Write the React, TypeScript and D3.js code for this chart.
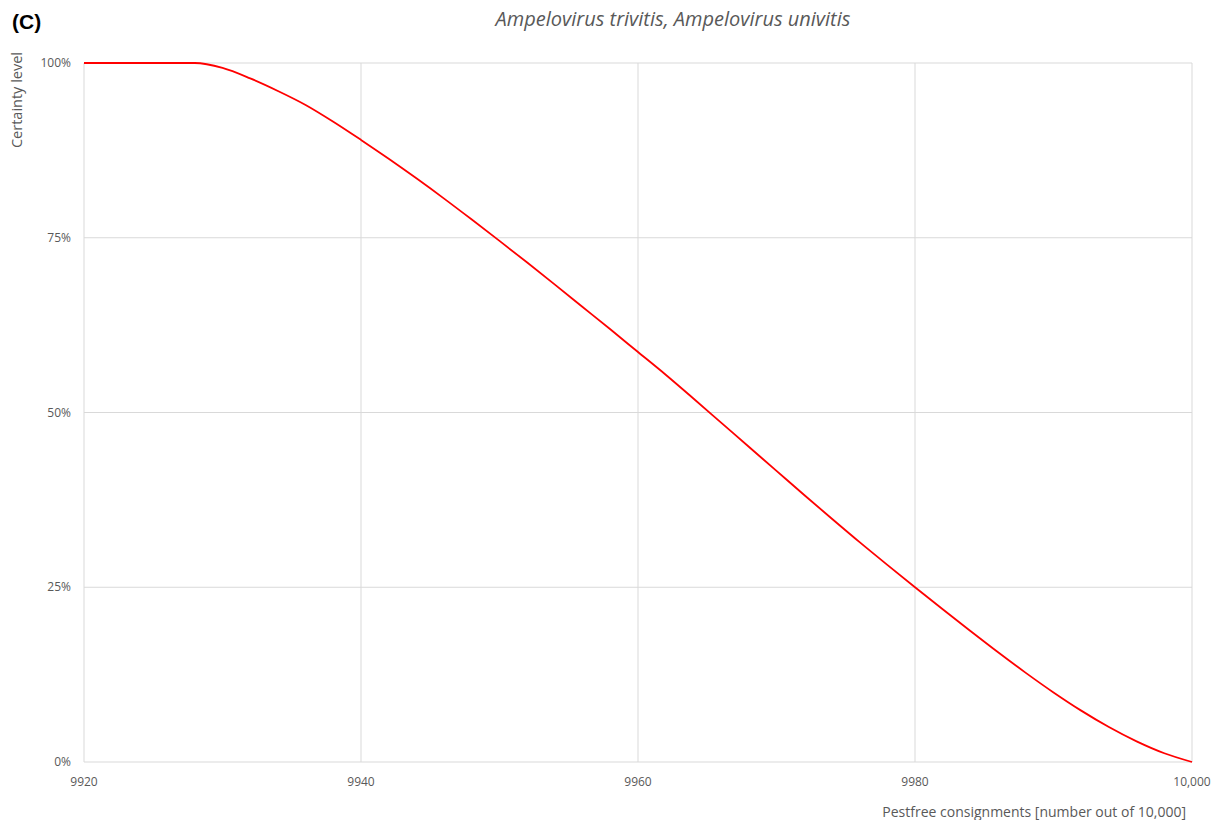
import React from "react";
import * as d3 from "d3";

const xValues = [9920, 9928, 9930, 9932, 9934, 9936, 9938, 9940, 9942, 9944, 9946, 9948, 9950, 9952, 9954, 9956, 9958, 9960, 9962, 9964, 9966, 9968, 9970, 9972, 9974, 9976, 9978, 9980, 9982, 9984, 9986, 9988, 9990, 9992, 9994, 9996, 9998, 10000];
const certainty = [100, 100, 99.3, 97.8, 96.0, 94.0, 91.6, 89.0, 86.3, 83.5, 80.6, 77.6, 74.55, 71.45, 68.3, 65.1, 61.9, 58.65, 55.4, 52.0, 48.55, 45.1, 41.65, 38.2, 34.8, 31.45, 28.2, 25.0, 21.85, 18.75, 15.7, 12.75, 9.95, 7.35, 5.0, 2.95, 1.25, 0];
const xTicks = [9920, 9940, 9960, 9980, 10000];
const xTickLabels = ["9920", "9940", "9960", "9980", "10,000"];
const yTicks = [0, 25, 50, 75, 100];
const yTickLabels = ["0%", "25%", "50%", "75%", "100%"];
const panelLabel = "(C)";
const title = "Ampelovirus trivitis, Ampelovirus univitis";
const xLabel = "Pestfree consignments [number out of 10,000]";
const yLabel = "Certainty level";

export default function App() {
  const W = 1220, H = 820;
  const x = d3.scaleLinear().domain([9920, 10000]).range([84, 1192]);
  const y = d3.scaleLinear().domain([0, 100]).range([762, 63]);
  const data = xValues.map((v, i) => [v, certainty[i]] as [number, number]);
  const line = d3.line<[number, number]>().x(d => x(d[0])).y(d => y(d[1])).curve(d3.curveMonotoneX);
  const grey = "#595959";
  const font = "'Open Sans', 'Noto Sans', sans-serif";
  return (
    <svg width={W} height={H} style={{ position: "absolute", left: 0, top: 0, background: "#fff" }}>
      <text x={12} y={29} fontFamily="Liberation Sans, Arial, sans-serif" fontWeight="bold" fontSize={21} fill="#000">{panelLabel}</text>
      <text x={673} y={26} textAnchor="middle" fontFamily={font} fontStyle="italic" fontSize={20} fill={grey}>{title}</text>
      {yTicks.map(t => (
        <line key={"gy" + t} x1={84} x2={1192} y1={y(t)} y2={y(t)} stroke="#d9d9d9" strokeWidth={1} />
      ))}
      {xTicks.map(t => (
        <line key={"gx" + t} x1={x(t)} x2={x(t)} y1={63} y2={762} stroke="#d9d9d9" strokeWidth={1} />
      ))}
      {yTicks.map((t, i) => (
        <text key={"ty" + t} x={71} y={y(t)} dy="0.35em" textAnchor="end" fontFamily={font} fontSize={12} fill={grey}>{yTickLabels[i]}</text>
      ))}
      {xTicks.map((t, i) => (
        <text key={"tx" + t} x={x(t)} y={786} textAnchor="middle" fontFamily={font} fontSize={12} fill={grey}>{xTickLabels[i]}</text>
      ))}
      <path d={line(data) || ""} fill="none" stroke="#ff0000" strokeWidth={1.8} />
      <text transform="translate(22,52) rotate(-90)" textAnchor="end" fontFamily={font} fontSize={14.5} fill={grey}>{yLabel}</text>
      <text x={1186} y={817} textAnchor="end" fontFamily={font} fontSize={14} fill={grey}>{xLabel}</text>
    </svg>
  );
}
